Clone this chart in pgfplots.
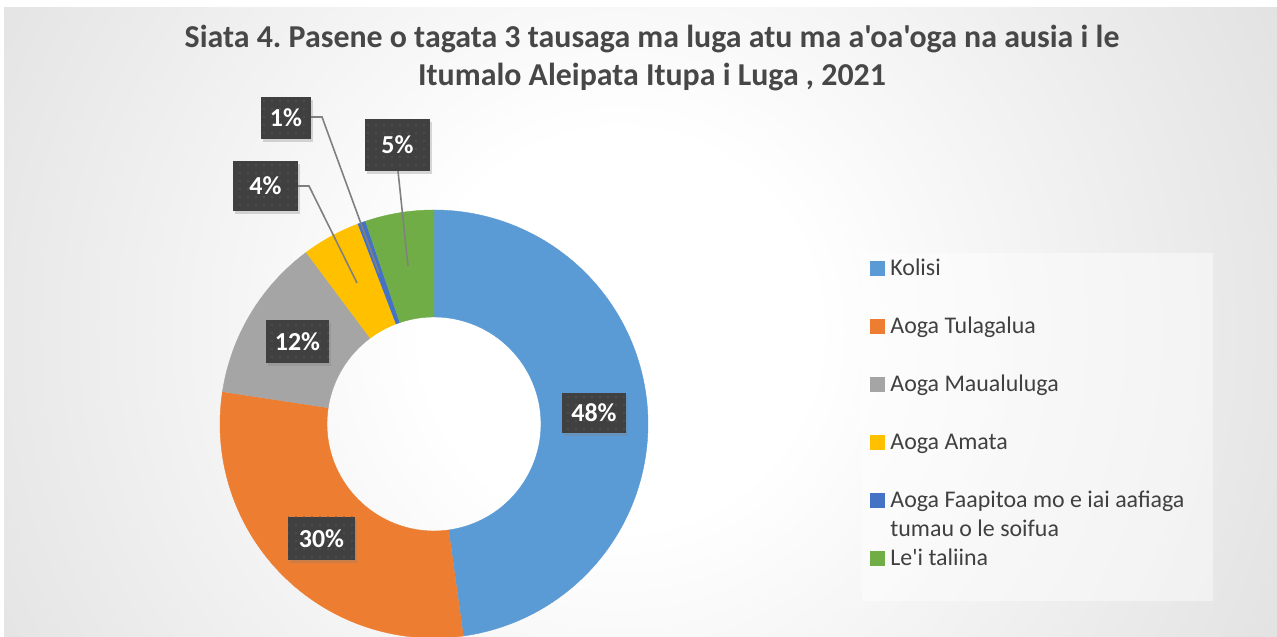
\documentclass[border=0pt]{standalone}
\usepackage{fontspec}
\setmainfont{Carlito}[Ligatures=TeXOff]
\usepackage{pgfplots}
\pgfplotsset{compat=1.18}
\usepackage{pgfplotstable}
\usetikzlibrary{patterns.meta,shadows}

\definecolor{slice0}{HTML}{5B9BD5}
\definecolor{slice1}{HTML}{ED7D31}
\definecolor{slice2}{HTML}{A5A5A5}
\definecolor{slice3}{HTML}{FFC000}
\definecolor{slice4}{HTML}{4472C4}
\definecolor{slice5}{HTML}{70AD47}
\definecolor{titlegray}{HTML}{474747}
\definecolor{textgray}{HTML}{404040}
\definecolor{lblgray}{HTML}{404040}
\definecolor{leader}{HTML}{808080}

\pgfdeclareradialshading{chartbg}{\pgfpoint{0bp}{0bp}}{rgb(0bp)=(1,1,1); rgb(7bp)=(1,1,1); rgb(47bp)=(0.765,0.765,0.765); rgb(50bp)=(0.76,0.76,0.76)}

% share of each group, percent
\pgfplotstableread{
name value
Kolisi 47.8
Tulagalua 29.6
Maualuluga 12.4
Amata 4.4
Faapitoa 0.6
Taliina 5.2
}\donutdata

% row strut for the legend: 36bp above, 22bp below the baseline
\newcommand\lgs{\rule[-22bp]{0pt}{58bp}}

\tikzset{lbl/.style={fill=lblgray, text=white, inner sep=0pt,
    font=\fontsize{26}{30}\selectfont\bfseries,
    drop shadow={shadow xshift=2bp, shadow yshift=-3bp, opacity=0.3},
    postaction={pattern={Dots[distance=8bp,radius=0.9bp]}, pattern color=white!12!lblgray}}}

\begin{document}
\frenchspacing
\begin{tikzpicture}[x=1bp,y=1bp]
\useasboundingbox (0,0) rectangle (1277,637);
\fill[white] (0,0) rectangle (1277,637);
\begin{scope}
  \clip (4,0) rectangle (1277,629);
  \shade[shading=chartbg] (-80,-393) rectangle (1320,1007);
\end{scope}
% legend panel
\fill[white, opacity=0.45] (862,36) rectangle (1213,384);

\begin{axis}[
    at={(0,0)}, anchor=south west,
    width=1277bp, height=637bp, scale only axis,
    xmin=0, xmax=1277, ymin=0, ymax=637,
    hide axis, clip=true,
    legend cell align=left,
    legend image code/.code={\fill[#1] (0bp,-7bp) rectangle (14bp,7bp);},
    legend style={at={(axis cs:870,397.7)}, anchor=north west,
        draw=none, fill=none, inner sep=0pt, outer sep=0pt,
        font=\fontsize{24}{29.3}\selectfont, text=textgray,
        row sep=0pt, nodes={inner sep=0pt, text depth=},
        /tikz/every odd column/.append style={column sep=6bp}},
  ]
  \def\cum{0}
  \pgfplotsinvokeforeach{0,...,5}{
    \pgfplotstablegetelem{#1}{value}\of\donutdata
    \pgfmathsetmacro\angA{90-3.6*\cum}
    \pgfmathsetmacro\cum{\cum+\pgfplotsretval}
    \global\let\cum\cum
    \pgfmathsetmacro\angB{90-3.6*\cum}
    % t in [0,1]: outer arc A->B, t in [1,2]: inner arc B->A
    \addplot[fill=slice#1, draw=slice#1, line width=0.4bp,
        domain=0:2, samples=241, variable=\t]
      ({(\t<1.004) ? (434+214*cos(\angA+(\angB-\angA)*min(\t,1))) : (434+107*cos(\angB+(\angA-\angB)*max(0,(\t-1.0083333)*1.0084034)))},
       {(\t<1.004) ? (213+214*sin(\angA+(\angB-\angA)*min(\t,1))) : (213+107*sin(\angB+(\angA-\angB)*max(0,(\t-1.0083333)*1.0084034)))});
  }
  \legend{\lgs Kolisi, \lgs Aoga Tulagalua, \lgs Aoga Maualuluga, \lgs Aoga Amata,
    {\lgs\smash{\begin{tabular}[t]{@{}l@{}}Aoga Faapitoa mo e iai aafiaga\\tumau o le soifua\end{tabular}}},
    \lgs Le'i taliina}

  % leader lines
  \addplot[leader, line width=1.6bp, forget plot] coordinates {(311,520) (322,520) (379,364)};
  \addplot[leader, line width=1.6bp, forget plot] coordinates {(298,451) (309,451) (357,354)};
  \addplot[leader, line width=1.6bp, forget plot] coordinates {(398,466) (408,371)};

  % data labels
  \node[lbl, minimum width=64bp, minimum height=40bp] at (axis cs:594,224) {48\%};
  \node[lbl, minimum width=67bp, minimum height=43bp] at (axis cs:321.5,98.5) {30\%};
  \node[lbl, minimum width=63bp, minimum height=43bp] at (axis cs:297.5,295.5) {12\%};
  \node[lbl, minimum width=65bp, minimum height=50bp] at (axis cs:265.5,451) {4\%};
  \node[lbl, minimum width=50bp, minimum height=42bp] at (axis cs:286,519) {1\%};
  \node[lbl, minimum width=65bp, minimum height=52bp] at (axis cs:397.5,492) {5\%};
\end{axis}

\node[anchor=base, text=titlegray, font=\fontsize{32}{38}\selectfont\bfseries]
  at (652,589.7) {Siata 4. Pasene o tagata 3 tausaga ma luga atu ma a'oa'oga na ausia i le};
\node[anchor=base, text=titlegray, font=\fontsize{32}{38}\selectfont\bfseries]
  at (652,551) {Itumalo Aleipata Itupa i Luga , 2021};
\end{tikzpicture}
\end{document}
